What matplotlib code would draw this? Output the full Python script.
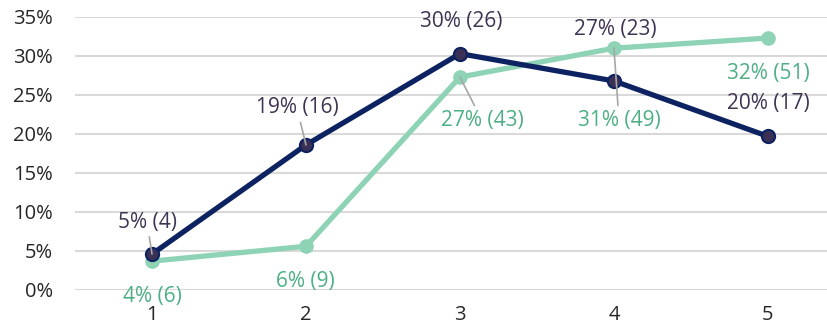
import matplotlib

matplotlib.use("Agg")

import matplotlib.pyplot as plt
from matplotlib.ticker import PercentFormatter

categories = [1, 2, 3, 4, 5]

navy_values = [0.046, 0.186, 0.303, 0.268, 0.197]
navy_labels = ["5% (4)", "19% (16)", "30% (26)", "27% (23)", "20% (17)"]

green_values = [0.037, 0.056, 0.273, 0.310, 0.323]
green_labels = ["4% (6)", "6% (9)", "27% (43)", "31% (49)", "32% (51)"]

y_ticks = [0, 0.05, 0.10, 0.15, 0.20, 0.25, 0.30, 0.35]

NAVY = "#0D2260"
NAVY_FACE = "#3A2F55"
NAVY_TEXT = "#3F3453"
GREEN = "#8ED3B5"
GREEN_TEXT = "#4DAF84"

plt.rcParams["font.family"] = ["Open Sans", "DejaVu Sans"]

fig = plt.figure(figsize=(8.28, 3.25), dpi=100)
ax = fig.add_axes([0.0906, 0.1077, 0.9094, 0.84])

ax.plot(categories, green_values, color=GREEN, lw=3.8, marker="o", ms=9.5,
        mfc=GREEN, mec=GREEN, zorder=3, solid_capstyle="round")
ax.plot(categories, navy_values, color=NAVY, lw=3.8, marker="o", ms=9.5,
        mfc=NAVY_FACE, mec=NAVY, mew=1.5, zorder=4, solid_capstyle="round")

# décalages des étiquettes (points) et présence d'un trait de rappel
navy_offsets = [(-3.6, 23), (-6.5, 26.6), (0.7, 23), (0.7, 36.7), (0, 23.8)]
navy_leader = [True, True, False, False, False]
green_offsets = [(0, -25.2), (-0.7, -25.2), (15.8, -31), (3.6, -51.8), (0, -25.2)]
green_leader = [False, False, True, True, False]


def label_series(xs, ys, labels, offsets, leaders, color):
    for x, y, txt, off, lead in zip(xs, ys, labels, offsets, leaders):
        props = None
        if lead:
            props = dict(arrowstyle="-", color="#A6A6A6", lw=1.2,
                         shrinkA=1, shrinkB=0)
        ax.annotate(txt, (x, y), xytext=off, textcoords="offset points",
                    ha="center", va="center", fontsize=15, color=color,
                    arrowprops=props, zorder=5)


label_series(categories, navy_values, navy_labels, navy_offsets, navy_leader, NAVY_TEXT)
label_series(categories, green_values, green_labels, green_offsets, green_leader, GREEN_TEXT)

ax.set_xlim(0.5, 5.39)
ax.set_ylim(0, 0.35)
ax.set_xticks(categories)
ax.set_yticks(y_ticks)
ax.yaxis.set_major_formatter(PercentFormatter(1.0, decimals=0))
ax.grid(axis="y", color="#D9D9D9", lw=1.5)
ax.set_axisbelow(True)
for s in ax.spines.values():
    s.set_visible(False)
ax.tick_params(length=0, labelsize=14.5, colors="#262626")
ax.tick_params(axis="y", pad=16)
ax.tick_params(axis="x", pad=11)

fig.savefig("out.png", dpi=100)
plt.close(fig)
